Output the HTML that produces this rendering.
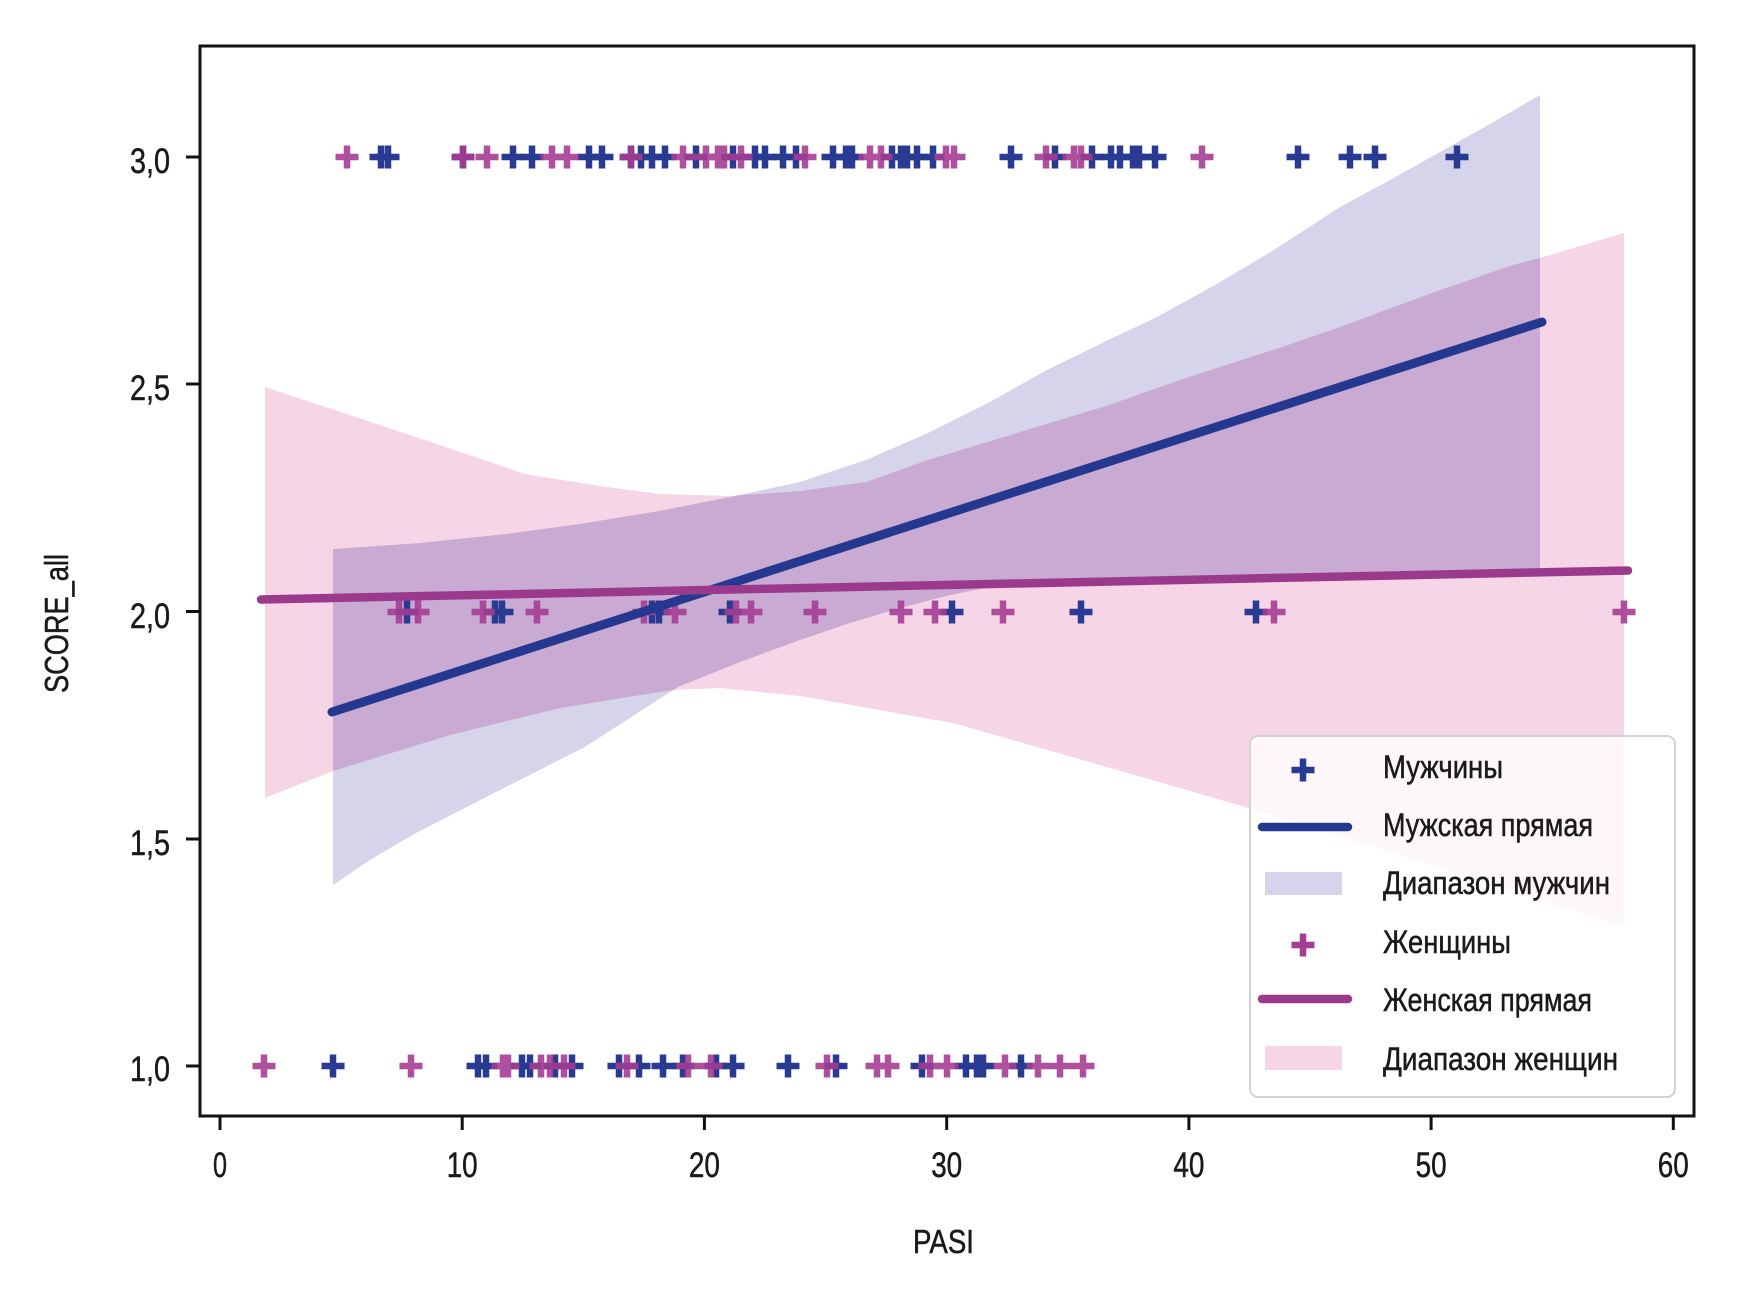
<!DOCTYPE html>
<html>
<head>
<meta charset="utf-8">
<style>
  html, body { margin: 0; padding: 0; background: #ffffff; }
  body { width: 1748px; height: 1292px; overflow: hidden; }
  svg { display: block; }
  text { font-family: "Liberation Sans", "DejaVu Sans", sans-serif; fill: #1a1a1a; stroke: #1a1a1a; stroke-width: 0.5; }
</style>
</head>
<body>
<svg width="1748" height="1292" viewBox="0 0 1748 1292" xmlns="http://www.w3.org/2000/svg">
  <defs>
    <path id="pl" d="M-11.5 0h23M0-11.5v23" stroke-width="6.5" fill="none"/>
    <clipPath id="clipPink">
      <polygon points="265,387 350,415 440,445 525,474 600,486 659,494 730,496 800,491 866,482 928,460 1030,429 1106,406 1183,379 1285,346 1340,327 1440,290 1513,265 1540,258 1624,233 1624,927 1400,855 1249,808 1100,765 953,723 800,696 720,688 673,690 560,708 450,735 333,771 265,798"/>
    </clipPath>
  </defs>

  <rect x="0" y="0" width="1748" height="1292" fill="#ffffff"/>

  <!-- Men band -->
  <polygon fill="#d6d4eb" points="333,549 420,543 506,534 580,524 659,511 730,497 800,482 866,460 928,433 990,402 1045,371 1100,344 1157,317 1215,285 1274,250 1340,207 1390,180 1440,152 1490,124 1540,95 1540,569 1400,575 1200,581 1000,585 950,595 900,608 850,623 800,640 740,662 678,687 630,718 583,748 500,790 414,834 370,860 333,885"/>
  <!-- Women band -->
  <polygon fill="#f6d5e7" points="265,387 350,415 440,445 525,474 600,486 659,494 730,496 800,491 866,482 928,460 1030,429 1106,406 1183,379 1285,346 1340,327 1440,290 1513,265 1540,258 1624,233 1624,927 1400,855 1249,808 1100,765 953,723 800,696 720,688 673,690 560,708 450,735 333,771 265,798"/>
  <!-- Overlap -->
  <g clip-path="url(#clipPink)">
    <polygon fill="#c9aad2" points="333,549 420,543 506,534 580,524 659,511 730,497 800,482 866,460 928,433 990,402 1045,371 1100,344 1157,317 1215,285 1274,250 1340,207 1390,180 1440,152 1490,124 1540,95 1540,569 1400,575 1200,581 1000,585 950,595 900,608 850,623 800,640 740,662 678,687 630,718 583,748 500,790 414,834 370,860 333,885"/>
  </g>

  <!-- Men markers -->
  <g stroke="#283a91">
    <use href="#pl" x="381" y="157"/><use href="#pl" x="388" y="157"/><use href="#pl" x="463" y="157"/>
    <use href="#pl" x="513" y="157"/><use href="#pl" x="532" y="157"/><use href="#pl" x="589" y="157"/>
    <use href="#pl" x="602" y="157"/><use href="#pl" x="631" y="157"/><use href="#pl" x="641" y="157"/>
    <use href="#pl" x="652" y="157"/><use href="#pl" x="665" y="157"/><use href="#pl" x="696" y="157"/>
    <use href="#pl" x="733" y="157"/><use href="#pl" x="755" y="157"/><use href="#pl" x="765" y="157"/>
    <use href="#pl" x="783" y="157"/><use href="#pl" x="796" y="157"/><use href="#pl" x="833" y="157"/>
    <use href="#pl" x="846" y="157"/><use href="#pl" x="852" y="157"/><use href="#pl" x="892" y="157"/>
    <use href="#pl" x="901" y="157"/><use href="#pl" x="907" y="157"/><use href="#pl" x="917" y="157"/>
    <use href="#pl" x="933" y="157"/><use href="#pl" x="1011" y="157"/><use href="#pl" x="1055" y="157"/>
    <use href="#pl" x="1092" y="157"/><use href="#pl" x="1111" y="157"/><use href="#pl" x="1120" y="157"/>
    <use href="#pl" x="1133" y="157"/><use href="#pl" x="1139" y="157"/><use href="#pl" x="1155" y="157"/>
    <use href="#pl" x="1298" y="157"/><use href="#pl" x="1350" y="157"/><use href="#pl" x="1375" y="157"/>
    <use href="#pl" x="1457" y="157"/>
    <use href="#pl" x="407" y="612"/><use href="#pl" x="495" y="612"/><use href="#pl" x="502" y="612"/>
    <use href="#pl" x="652" y="612"/><use href="#pl" x="659" y="612"/><use href="#pl" x="730" y="612"/>
    <use href="#pl" x="952" y="612"/><use href="#pl" x="1081" y="612"/><use href="#pl" x="1256" y="612"/>
    <use href="#pl" x="333" y="1066"/><use href="#pl" x="478" y="1066"/><use href="#pl" x="486" y="1066"/>
    <use href="#pl" x="522" y="1066"/><use href="#pl" x="530" y="1066"/><use href="#pl" x="555" y="1066"/>
    <use href="#pl" x="572" y="1066"/><use href="#pl" x="619" y="1066"/><use href="#pl" x="639" y="1066"/>
    <use href="#pl" x="663" y="1066"/><use href="#pl" x="683" y="1066"/><use href="#pl" x="716" y="1066"/>
    <use href="#pl" x="733" y="1066"/><use href="#pl" x="788" y="1066"/><use href="#pl" x="836" y="1066"/>
    <use href="#pl" x="922" y="1066"/><use href="#pl" x="966" y="1066"/><use href="#pl" x="977" y="1066"/>
    <use href="#pl" x="983" y="1066"/><use href="#pl" x="1021" y="1066"/>
  </g>

  <!-- Women markers -->
  <g stroke="#a53d94" opacity="0.9">
    <use href="#pl" x="347" y="157"/><use href="#pl" x="463" y="157"/><use href="#pl" x="487" y="157"/>
    <use href="#pl" x="552" y="157"/><use href="#pl" x="567" y="157"/><use href="#pl" x="631" y="157"/>
    <use href="#pl" x="683" y="157"/><use href="#pl" x="706" y="157"/><use href="#pl" x="718" y="157"/>
    <use href="#pl" x="724" y="157"/><use href="#pl" x="741" y="157"/><use href="#pl" x="805" y="157"/>
    <use href="#pl" x="870" y="157"/><use href="#pl" x="881" y="157"/><use href="#pl" x="946" y="157"/>
    <use href="#pl" x="954" y="157"/><use href="#pl" x="1046" y="157"/><use href="#pl" x="1074" y="157"/>
    <use href="#pl" x="1081" y="157"/><use href="#pl" x="1202" y="157"/>
    <use href="#pl" x="399" y="612"/><use href="#pl" x="418" y="612"/><use href="#pl" x="483" y="612"/>
    <use href="#pl" x="537" y="612"/><use href="#pl" x="644" y="612"/><use href="#pl" x="675" y="612"/>
    <use href="#pl" x="736" y="612"/><use href="#pl" x="751" y="612"/><use href="#pl" x="815" y="612"/>
    <use href="#pl" x="901" y="612"/><use href="#pl" x="935" y="612"/><use href="#pl" x="1003" y="612"/>
    <use href="#pl" x="1274" y="612"/><use href="#pl" x="1624" y="612"/>
    <use href="#pl" x="264" y="1066"/><use href="#pl" x="411" y="1066"/><use href="#pl" x="503" y="1066"/>
    <use href="#pl" x="508" y="1066"/><use href="#pl" x="541" y="1066"/><use href="#pl" x="550" y="1066"/>
    <use href="#pl" x="564" y="1066"/><use href="#pl" x="627" y="1066"/><use href="#pl" x="688" y="1066"/>
    <use href="#pl" x="711" y="1066"/><use href="#pl" x="827" y="1066"/><use href="#pl" x="877" y="1066"/>
    <use href="#pl" x="888" y="1066"/><use href="#pl" x="930" y="1066"/><use href="#pl" x="947" y="1066"/>
    <use href="#pl" x="1005" y="1066"/><use href="#pl" x="1038" y="1066"/><use href="#pl" x="1060" y="1066"/>
    <use href="#pl" x="1083" y="1066"/>
  </g>

  <!-- Regression lines -->
  <line x1="332" y1="712" x2="1542" y2="322" stroke="#25388f" stroke-width="9" stroke-linecap="round"/>
  <line x1="261" y1="599.5" x2="1628" y2="570.5" stroke="#9b3a8c" stroke-width="8.5" stroke-linecap="round"/>

  <!-- Axes frame -->
  <rect x="200" y="46" width="1494" height="1070" fill="none" stroke="#111111" stroke-width="3"/>

  <!-- Y ticks -->
  <g stroke="#111111" stroke-width="3">
    <line x1="186" y1="157" x2="200" y2="157"/>
    <line x1="186" y1="384" x2="200" y2="384"/>
    <line x1="186" y1="611.5" x2="200" y2="611.5"/>
    <line x1="186" y1="839" x2="200" y2="839"/>
    <line x1="186" y1="1066" x2="200" y2="1066"/>
  </g>
  <!-- X ticks -->
  <g stroke="#111111" stroke-width="3">
    <line x1="220" y1="1116" x2="220" y2="1130"/>
    <line x1="462.2" y1="1116" x2="462.2" y2="1130"/>
    <line x1="704.4" y1="1116" x2="704.4" y2="1130"/>
    <line x1="946.7" y1="1116" x2="946.7" y2="1130"/>
    <line x1="1188.9" y1="1116" x2="1188.9" y2="1130"/>
    <line x1="1431.1" y1="1116" x2="1431.1" y2="1130"/>
    <line x1="1673.3" y1="1116" x2="1673.3" y2="1130"/>
  </g>

  <!-- Y tick labels -->
  <g font-size="35">
    <text x="130" y="173" textLength="40" lengthAdjust="spacingAndGlyphs">3,0</text>
    <text x="130" y="400" textLength="40" lengthAdjust="spacingAndGlyphs">2,5</text>
    <text x="130" y="628" textLength="40" lengthAdjust="spacingAndGlyphs">2,0</text>
    <text x="130" y="855" textLength="40" lengthAdjust="spacingAndGlyphs">1,5</text>
    <text x="130" y="1081" textLength="40" lengthAdjust="spacingAndGlyphs">1,0</text>
  </g>
  <!-- X tick labels -->
  <g font-size="35">
    <text x="213" y="1177" textLength="14" lengthAdjust="spacingAndGlyphs">0</text>
    <text x="446.7" y="1177" textLength="31" lengthAdjust="spacingAndGlyphs">10</text>
    <text x="688.9" y="1177" textLength="31" lengthAdjust="spacingAndGlyphs">20</text>
    <text x="931.2" y="1177" textLength="31" lengthAdjust="spacingAndGlyphs">30</text>
    <text x="1173.4" y="1177" textLength="31" lengthAdjust="spacingAndGlyphs">40</text>
    <text x="1415.6" y="1177" textLength="31" lengthAdjust="spacingAndGlyphs">50</text>
    <text x="1657.8" y="1177" textLength="31" lengthAdjust="spacingAndGlyphs">60</text>
  </g>

  <!-- Axis labels -->
  <text x="913" y="1253" font-size="33" textLength="61" lengthAdjust="spacingAndGlyphs">PASI</text>
  <text transform="translate(68,693) rotate(-90)" x="0" y="0" font-size="33" textLength="139" lengthAdjust="spacingAndGlyphs">SCORE_all</text>

  <!-- Legend -->
  <rect x="1250" y="736" width="425" height="361" rx="8" ry="8" fill="#ffffff" fill-opacity="0.8" stroke="#d2d2d2" stroke-width="2"/>
  <use href="#pl" x="1303" y="770" stroke="#283a91"/>
  <line x1="1262" y1="827" x2="1348" y2="827" stroke="#25388f" stroke-width="8.5" stroke-linecap="round"/>
  <rect x="1265" y="872" width="77" height="23" fill="#d6d4eb"/>
  <use href="#pl" x="1303" y="945" stroke="#a53d94"/>
  <line x1="1262" y1="999" x2="1348" y2="999" stroke="#9b3a8c" stroke-width="8.5" stroke-linecap="round"/>
  <rect x="1265" y="1046" width="77" height="24" fill="#f6d5e7"/>
  <g font-size="32">
    <text x="1383" y="778" textLength="120" lengthAdjust="spacingAndGlyphs">Мужчины</text>
    <text x="1383" y="836" textLength="210" lengthAdjust="spacingAndGlyphs">Мужская прямая</text>
    <text x="1383" y="894" textLength="227" lengthAdjust="spacingAndGlyphs">Диапазон мужчин</text>
    <text x="1383" y="953" textLength="128" lengthAdjust="spacingAndGlyphs">Женщины</text>
    <text x="1383" y="1011" textLength="209" lengthAdjust="spacingAndGlyphs">Женская прямая</text>
    <text x="1383" y="1070" textLength="235" lengthAdjust="spacingAndGlyphs">Диапазон женщин</text>
  </g>
</svg>
</body>
</html>
